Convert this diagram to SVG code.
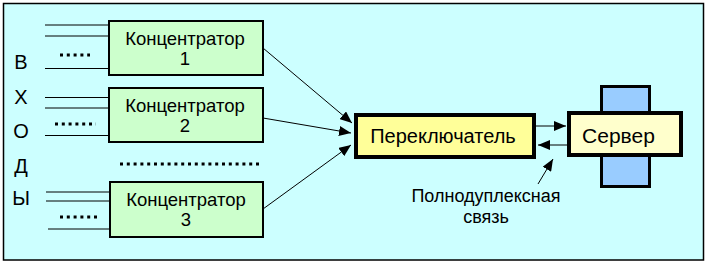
<svg xmlns="http://www.w3.org/2000/svg" width="708" height="262" viewBox="0 0 708 262">
<defs>
<marker id="ah" viewBox="0 0 12 10" refX="12" refY="5" markerWidth="12" markerHeight="10" markerUnits="userSpaceOnUse" orient="auto">
<path d="M0,0 L12,5 L0,10 z" fill="#000"/>
</marker>
<style>
text{font-family:"Liberation Sans",Arial,sans-serif;fill:#000}
.conc rect{fill:#CCFFCC;stroke:#000;stroke-width:2}
.ct{font-size:18.5px;text-anchor:middle}
.lt{font-size:20px;text-anchor:middle}
.in line{stroke:#000;stroke-width:1}
.in line.dots{stroke:#000;stroke-width:3;stroke-dasharray:3 3.8}
.conn line{stroke:#000;stroke-width:1;marker-end:url(#ah)}
</style>
</defs>
<rect x="3.5" y="3.5" width="700" height="256.5" fill="#CCFFFF" stroke="#000" stroke-width="1.5"/>
<g id="letters">
<text class="lt" x="21" y="69">В</text>
<text class="lt" x="21" y="104">Х</text>
<text class="lt" x="21" y="138">О</text>
<text class="lt" x="21" y="173">Д</text>
<text class="lt" x="21" y="205">Ы</text>
</g>
<g id="inputs" class="in">
<line x1="45" y1="25" x2="109" y2="25"/>
<line x1="45" y1="36" x2="109" y2="36"/>
<line x1="60" y1="55" x2="90" y2="55" class="dots"/>
<line x1="45" y1="68.5" x2="109" y2="68.5"/>
<line x1="45" y1="97.5" x2="109" y2="97.5"/>
<line x1="45" y1="108" x2="109" y2="108"/>
<line x1="55" y1="124" x2="96" y2="124" class="dots"/>
<line x1="45" y1="135.5" x2="109" y2="135.5"/>
<line x1="120" y1="164" x2="260" y2="164" class="dots"/>
<line x1="46" y1="192" x2="110" y2="192"/>
<line x1="46" y1="201" x2="110" y2="201"/>
<line x1="60" y1="217" x2="100" y2="217" class="dots"/>
<line x1="48" y1="229" x2="110" y2="229"/>
</g>
<g id="conc1" class="conc">
<rect x="109" y="21" width="154" height="54"/>
<text class="ct" x="185" y="45">Концентратор</text>
<text class="ct" x="185" y="65">1</text>
</g>
<g id="conc2" class="conc">
<rect x="109" y="88" width="154" height="54"/>
<text class="ct" x="185" y="112">Концентратор</text>
<text class="ct" x="185" y="132">2</text>
</g>
<g id="conc3" class="conc">
<rect x="110" y="182" width="153" height="55"/>
<text class="ct" x="186" y="206">Концентратор</text>
<text class="ct" x="186" y="226">3</text>
</g>
<g id="switch">
<rect x="356" y="115" width="178" height="42" fill="#FFFF99" stroke="#000" stroke-width="4"/>
<text x="443" y="143" font-size="20" text-anchor="middle">Переключатель</text>
</g>
<g id="server">
<rect x="601.5" y="86.5" width="48" height="100" fill="#99CCFF" stroke="#000" stroke-width="3"/>
<rect x="569" y="113" width="112" height="42" fill="#FFFFCC" stroke="#000" stroke-width="4"/>
<text x="618.5" y="143" font-size="21" text-anchor="middle">Сервер</text>
</g>
<g id="label">
<text x="486" y="202" font-size="18" text-anchor="middle">Полнодуплексная</text>
<text x="486" y="223" font-size="18" text-anchor="middle">связь</text>
</g>
<g id="connectors" class="conn">
<line x1="263" y1="48" x2="352" y2="123"/>
<line x1="263" y1="118" x2="351" y2="133"/>
<line x1="263" y1="209" x2="351" y2="145"/>
<line x1="536" y1="126" x2="566" y2="126"/>
<line x1="567" y1="145" x2="538" y2="145"/>
<line x1="538" y1="184" x2="553" y2="159"/>
</g>
</svg>
